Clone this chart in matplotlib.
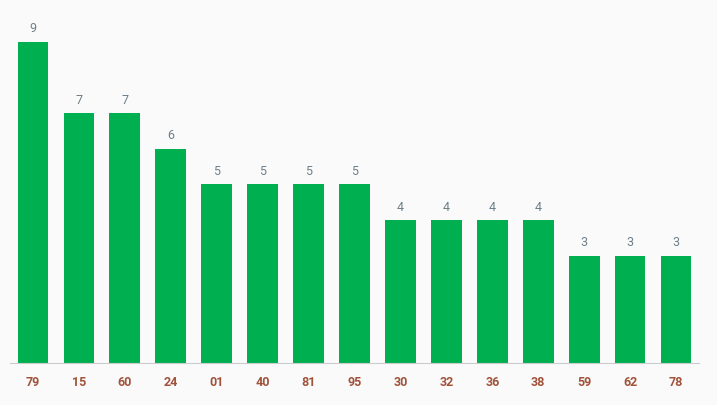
import matplotlib
matplotlib.use('Agg')
import matplotlib.pyplot as plt

labels = ['79', '15', '60', '24', '01', '40', '81', '95', '30', '32', '36', '38', '59', '62', '78']
values = [9, 7, 7, 6, 5, 5, 5, 5, 4, 4, 4, 4, 3, 3, 3]

fig = plt.figure(figsize=(7.17, 4.05), dpi=100)
fig.patch.set_facecolor('#fafafa')
ax = fig.add_axes([10 / 717, 1 - 363 / 405, 689 / 717, 357 / 405])
ax.set_facecolor('#fafafa')

x = range(len(labels))
ax.bar(x, values, width=0.67, color='#00b050')
for i, v in zip(x, values):
    ax.text(i, v + 0.18, str(v), ha='center', va='bottom', fontsize=9,
            color='#6d7f8a', family='Roboto')

ax.set_xlim(-0.5, len(labels) - 0.5)
ax.set_ylim(0, 10)
ax.set_xticks(list(x))
ax.set_xticklabels(labels, fontsize=9, fontweight='bold', color='#a0523a', family='Roboto')
ax.tick_params(axis='x', length=0, pad=9)
ax.set_yticks([])
for s in ['top', 'right', 'left']:
    ax.spines[s].set_visible(False)
ax.spines['bottom'].set_color('#cccccc')

fig.savefig('out.png', dpi=100, facecolor=fig.get_facecolor())
